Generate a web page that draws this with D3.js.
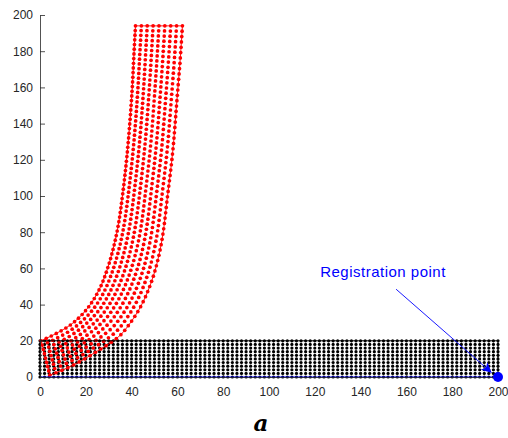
<!DOCTYPE html>
<html>
<head>
<meta charset="utf-8">
<script src="https://cdn.jsdelivr.net/npm/d3@7"></script>
<style>
  body { margin: 0; background: #fff; }
  svg { display: block; }
</style>
</head>
<body>
<svg id="chart" width="508" height="438"></svg>
<script>
// reference grid (black): x 0..200, y 0..20, spacing 2
var gridXExtent = [0, 200];
var gridYExtent = [0, 20];
var gridStep = 2;

// deformed grid (red): edges, bottom end -> top end
var innerEdge = [
  [0.5, 20], [7, 24], [13, 28.5], [18, 34], [22.5, 41], [26.5, 50],
  [29.5, 60], [32, 71], [34.2, 84], [36, 100], [37.8, 120], [39.2, 140],
  [40.3, 160], [41.1, 180], [41.7, 194]
];
var outerEdge = [
  [4.3, 1], [11, 4.5], [17.4, 8.5], [24, 13.5], [30.4, 18.6], [35, 23],
  [39.5, 30], [44, 39], [47.6, 49], [50.5, 60], [53.3, 76], [55.7, 100],
  [58, 125], [59.8, 153], [61.2, 175], [62.2, 194]
];
var redRows = 73;
var redCols = 9;

var regPoint = [200, 0];
var regLabel = "Registration point";
var arrowTail = [155.5, 48.5];
var arrowHead = [197.2, 2.4];

var xTicks = d3.range(0, 201, 20);
var yTicks = d3.range(0, 201, 20);

var svg = d3.select("#chart");
var axisColor = "#262626";

var x = d3.scaleLinear().domain([0, 200]).range([40, 498]);
var y = d3.scaleLinear().domain([0, 200]).range([377, 15]);

var g = svg.append("g");

// black grid
var blackPts = [];
d3.range(gridXExtent[0], gridXExtent[1] + 0.001, gridStep).forEach(function (gx) {
  d3.range(gridYExtent[0], gridYExtent[1] + 0.001, gridStep).forEach(function (gy) {
    blackPts.push([gx, gy]);
  });
});

g.selectAll("circle.black").data(blackPts).enter().append("circle")
  .attr("class", "black")
  .attr("cx", function (d) { return x(d[0]); })
  .attr("cy", function (d) { return y(d[1]); })
  .attr("r", 1.6)
  .attr("fill", "#000");

// sample the red edges along their length (in data units)
var lineData = d3.line().curve(d3.curveCatmullRom.alpha(0.5));
var hidden = svg.append("g").attr("visibility", "hidden");
function sampleEdge(pts) {
  var p = hidden.append("path").attr("d", lineData(pts)).node();
  var L = p.getTotalLength();
  return d3.range(redRows).map(function (i) {
    var q = p.getPointAtLength(L * i / (redRows - 1));
    return [q.x, q.y];
  });
}
var innerS = sampleEdge(innerEdge);
var outerS = sampleEdge(outerEdge);

var redPts = [];
for (var i = 0; i < redRows; i++) {
  for (var j = 0; j < redCols; j++) {
    var t = j / (redCols - 1);
    redPts.push([
      innerS[i][0] + (outerS[i][0] - innerS[i][0]) * t,
      innerS[i][1] + (outerS[i][1] - innerS[i][1]) * t
    ]);
  }
}

g.selectAll("circle.red").data(redPts).enter().append("circle")
  .attr("class", "red")
  .attr("cx", function (d) { return x(d[0]); })
  .attr("cy", function (d) { return y(d[1]); })
  .attr("r", 1.85)
  .attr("fill", "#ff0000");

// outlines
var line = d3.line().x(function (d) { return x(d[0]); }).y(function (d) { return y(d[1]); });
var redOutline = innerS.concat([outerS[redRows - 1]]).concat(outerS.slice().reverse()).concat([innerS[0]]);
g.append("path").attr("d", line(redOutline))
  .attr("fill", "none").attr("stroke", "#ff0000").attr("stroke-width", 0.9);

g.append("path")
  .attr("d", line([[gridXExtent[0], gridYExtent[0]], [gridXExtent[0], gridYExtent[1]],
                   [gridXExtent[1], gridYExtent[1]], [gridXExtent[1], gridYExtent[0]]]))
  .attr("fill", "none").attr("stroke", "#000").attr("stroke-width", 1);
g.append("path")
  .attr("d", line([[gridXExtent[0], gridYExtent[0]], [gridXExtent[1], gridYExtent[0]]]))
  .attr("fill", "none").attr("stroke", "#0000ff").attr("stroke-width", 1);

// axes
var xAxisG = svg.append("g").attr("transform", "translate(0,377)")
  .call(d3.axisBottom(x).tickValues(xTicks).tickSizeInner(-5).tickSizeOuter(0).tickPadding(10));
var yAxisG = svg.append("g").attr("transform", "translate(40,0)")
  .call(d3.axisLeft(y).tickValues(yTicks).tickSizeInner(-5).tickSizeOuter(0).tickPadding(7));
[xAxisG, yAxisG].forEach(function (a) {
  a.select(".domain").attr("stroke", axisColor).attr("stroke-width", 0.8);
  a.selectAll(".tick line").attr("stroke", axisColor).attr("stroke-width", 0.8);
  a.selectAll(".tick text").attr("fill", axisColor)
    .style("font-family", "'Liberation Sans', Arial, sans-serif").style("font-size", "12px");
});

// registration point + annotation
svg.append("defs").append("marker")
  .attr("id", "head").attr("viewBox", "0 0 10 10")
  .attr("refX", 10).attr("refY", 5)
  .attr("markerWidth", 13).attr("markerHeight", 10)
  .attr("markerUnits", "userSpaceOnUse")
  .attr("orient", "auto")
  .append("path").attr("d", "M0,0 L10,5 L0,10 L2.5,5 Z").attr("fill", "#0000ff");

svg.append("line")
  .attr("x1", x(arrowTail[0])).attr("y1", y(arrowTail[1]))
  .attr("x2", x(arrowHead[0])).attr("y2", y(arrowHead[1]))
  .attr("stroke", "#0000ff").attr("stroke-width", 0.9)
  .attr("marker-end", "url(#head)");

svg.append("circle")
  .attr("cx", x(regPoint[0])).attr("cy", y(regPoint[1]))
  .attr("r", 5).attr("fill", "#0000ff");

svg.append("text")
  .attr("x", 383).attr("y", 277)
  .attr("text-anchor", "middle")
  .attr("fill", "#0000ff")
  .style("font-family", "'Liberation Sans', Arial, sans-serif")
  .style("font-size", "15px")
  .style("letter-spacing", "0.5px")
  .text(regLabel);

// caption
svg.append("text")
  .attr("x", 261).attr("y", 431)
  .attr("text-anchor", "middle")
  .attr("fill", "#000")
  .style("font-family", "'DejaVu Serif', serif")
  .style("font-style", "italic")
  .style("font-weight", "bold")
  .style("font-size", "23px")
  .text("a");
</script>
</body>
</html>
